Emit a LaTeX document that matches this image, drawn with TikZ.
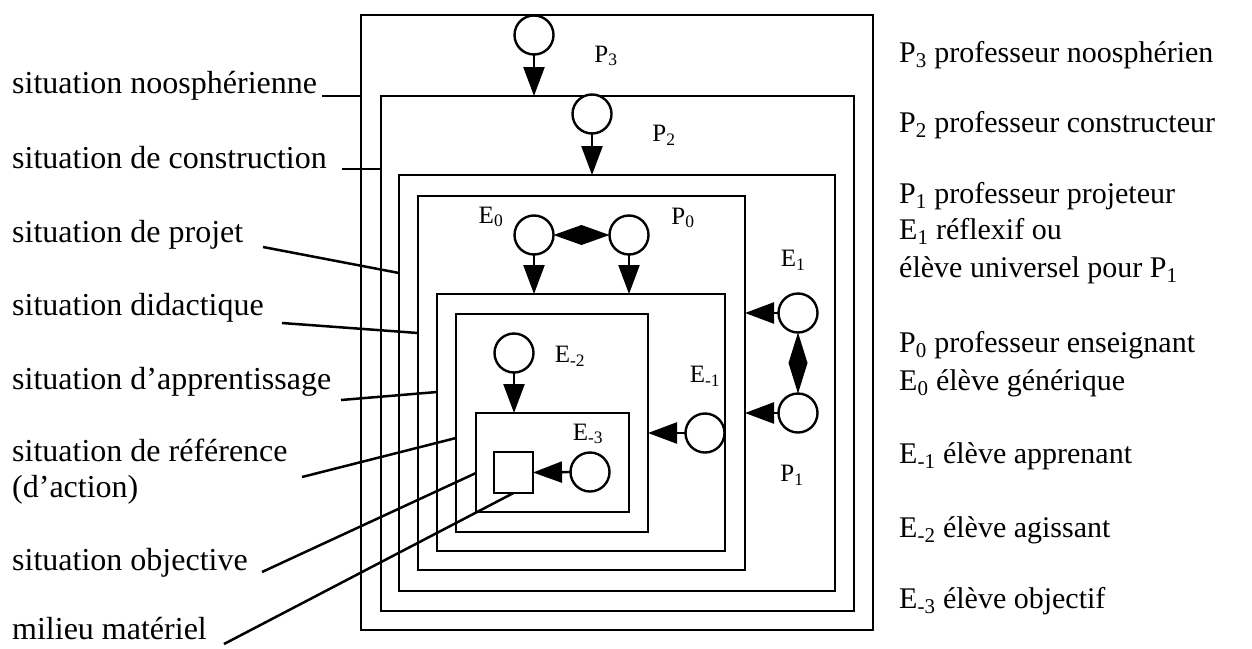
\documentclass[tikz,border=0pt]{standalone}
\usepackage{fontspec}
\setmainfont{Liberation Serif}
\usetikzlibrary{arrows.meta,calc}
\begin{document}
\begin{tikzpicture}[x=1pt,y=-1pt,
  box/.style={draw, line width=2.3pt, inner sep=0pt, outer sep=0pt, anchor=north west},
  agent/.style={circle, draw, line width=2.4pt, minimum size=39pt, inner sep=0pt, outer sep=0pt, fill=white},
  tag/.style={font=\fontsize{25}{28}\selectfont, inner sep=0pt},
  lefttxt/.style={font=\fontsize{32}{38}\selectfont, anchor=base west, inner sep=0pt},
  righttxt/.style={font=\fontsize{30}{36}\selectfont, anchor=base west, inner sep=0pt},
  flow/.style={line width=2.4pt, -{Triangle[length=29pt,width=21pt]}},
  leader/.style={line width=2.5pt},
  link/.style={fill=black}
]
\useasboundingbox (0,0) rectangle (1252,648);

% nested situations
\node[box, minimum width=512pt, minimum height=615pt] (r1) at (361,15) {};
\node[box, minimum width=473pt, minimum height=515pt] (r2) at (381,96) {};
\node[box, minimum width=436pt, minimum height=416pt] (r3) at (399,175) {};
\node[box, minimum width=327pt, minimum height=374pt] (r4) at (418,196) {};
\node[box, minimum width=288pt, minimum height=257pt] (r5) at (437,294) {};
\node[box, minimum width=192pt, minimum height=218pt] (r6) at (456,314) {};
\node[box, minimum width=153pt, minimum height=99pt] (r7) at (476,413) {};
\node[draw, line width=2.3pt, minimum width=39pt, minimum height=41pt, inner sep=0pt, outer sep=0pt] (sq) at (513.5,472.5) {};

% agents
\node[agent] (p3) at (534,35) {};
\node[agent] (p2) at (592,114) {};
\node[agent] (e0) at (534,235) {};
\node[agent] (p0) at (629,235) {};
\node[agent] (e1) at (798,313) {};
\node[agent] (p1) at (798,413) {};
\node[agent] (em1) at (705,433) {};
\node[agent] (em2) at (514,353) {};
\node[agent] (em3) at (590,472) {};

% arrows
\draw[flow] (p3.south) -- (p3.south |- r2.north);
\draw[flow] (p2.south) -- (p2.south |- r3.north);
\draw[flow] (e0.south) -- (e0.south |- r5.north);
\draw[flow] (p0.south) -- (p0.south |- r5.north);
\draw[flow] (e1.west) -- (e1.west -| r4.east);
\draw[flow] (p1.west) -- (p1.west -| r4.east);
\draw[flow] (em1.west) -- (em1.west -| r6.east);
\draw[flow] (em2.south) -- (em2.south |- r7.north);
\draw[flow] (em3.west) -- (sq.east);

% diamonds
\fill[link] (e0.east) -- ($(e0.east)!0.5!(p0.west)+(0,-10)$) -- (p0.west) -- ($(e0.east)!0.5!(p0.west)+(0,10)$) -- cycle;
\fill[link] (e1.south) -- ($(e1.south)!0.5!(p1.north)+(-9.5,0)$) -- (p1.north) -- ($(e1.south)!0.5!(p1.north)+(9.5,0)$) -- cycle;

% inner tags
\node[tag] (tp3) at (606,56) {P\textsubscript{3}};
\node[tag] (tp2) at (664,135) {P\textsubscript{2}};
\node[tag] (te0) at (491,217) {E\textsubscript{0}};
\node[tag] (tp0) at (683,218) {P\textsubscript{0}};
\node[tag] (te1) at (793,260) {E\textsubscript{1}};
\node[tag] (tp1) at (792,475) {P\textsubscript{1}};
\node[tag] (tem1) at (705,376) {E\textsubscript{-1}};
\node[tag] (tem2) at (570,356) {E\textsubscript{-2}};
\node[tag] (tem3) at (588,434) {E\textsubscript{-3}};

% left labels
\node[lefttxt] (s1) at (12,93) {situation noosphérienne};
\node[lefttxt] (s2) at (12,168) {situation de construction};
\node[lefttxt] (s3) at (12,242) {situation de projet};
\node[lefttxt] (s4) at (12,315) {situation didactique};
\node[lefttxt] (s5) at (12,389) {situation d’apprentissage};
\node[lefttxt] (s6) at (12,461) {situation de référence};
\node[lefttxt] (s6b) at (12,497) {(d’action)};
\node[lefttxt] (s7) at (12,570) {situation objective};
\node[lefttxt] (s8) at (12,639) {milieu matériel};

% leaders
\coordinate (a1) at (322,96);  \path (r1.north west) ++(0,81) coordinate (b1);
\coordinate (a2) at (342,169); \path (r2.north west) ++(0,73) coordinate (b2);
\coordinate (a3) at (263,247); \path (r3.north west) ++(0,98) coordinate (b3);
\coordinate (a4) at (282,323); \path (r4.north west) ++(0,137) coordinate (b4);
\coordinate (a5) at (341,400); \path (r5.north west) ++(0,98) coordinate (b5);
\coordinate (a6) at (302,477); \path (r6.north west) ++(0,124) coordinate (b6);
\coordinate (a7) at (262,572); \path (r7.north west) ++(0,60) coordinate (b7);
\coordinate (a8) at (224,644);
\draw[leader] (a1) -- (b1);
\draw[leader] (a2) -- (b2);
\draw[leader] (a3) -- (b3);
\draw[leader] (a4) -- (b4);
\draw[leader] (a5) -- (b5);
\draw[leader] (a6) -- (b6);
\draw[leader] (a7) -- (b7);
\draw[leader] (a8) -- (sq.south);

% right legend
\node[righttxt] (d1) at (899,62) {P\textsubscript{3} professeur noosphérien};
\node[righttxt] (d2) at (899,132) {P\textsubscript{2} professeur constructeur};
\node[righttxt] (d3) at (899,203) {P\textsubscript{1} professeur projeteur};
\node[righttxt] (d4) at (899,239) {E\textsubscript{1} réflexif ou};
\node[righttxt] (d5) at (899,277) {élève universel pour P\textsubscript{1}};
\node[righttxt] (d6) at (899,352) {P\textsubscript{0} professeur enseignant};
\node[righttxt] (d7) at (899,390) {E\textsubscript{0} élève générique};
\node[righttxt] (d8) at (899,463) {E\textsubscript{-1} élève apprenant};
\node[righttxt] (d9) at (899,537) {E\textsubscript{-2} élève agissant};
\node[righttxt] (d10) at (899,608) {E\textsubscript{-3} élève objectif};
\end{tikzpicture}
\end{document}
